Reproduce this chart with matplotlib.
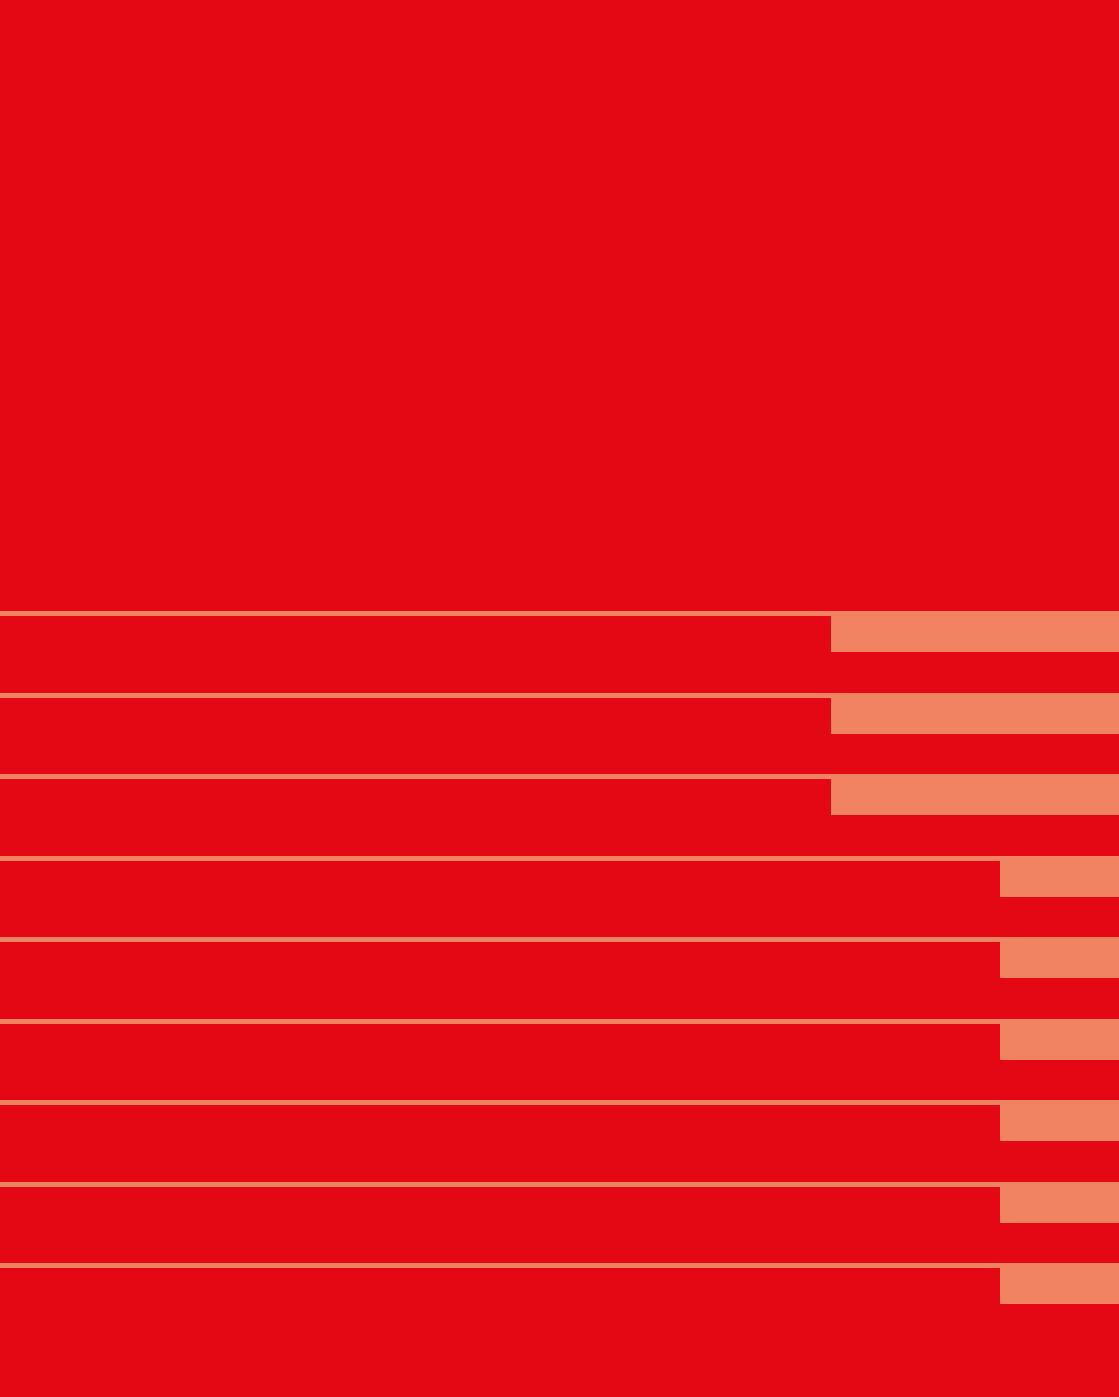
import numpy as np
import matplotlib
matplotlib.use("Agg")
import matplotlib.pyplot as plt

# share of each row that is filled (in %), rest is drawn in salmon
rows = ["r1", "r2", "r3", "r4", "r5", "r6", "r7", "r8", "r9"]
filled = [74.3, 74.3, 74.3, 89.4, 89.4, 89.4, 89.4, 89.4, 89.4]
total = 100.0

RED = "#E30813"
SALMON = "#F18363"

W, H = 1119, 1397
fig = plt.figure(figsize=(W / 100, H / 100), dpi=100, facecolor=RED)
ax = fig.add_axes([0, 0, 1, 1])
ax.set_facecolor(RED)

# layout in pixel units on the y axis
pitch = 81.5
first_line = 613.5
first_bar = 634
idx = np.arange(len(rows))
filled = np.array(filled)

# thin separator line on top of each row
ax.barh(first_line + idx * pitch, total, height=5, color=SALMON, linewidth=0)
# stacked bar: filled part + remainder
ax.barh(first_bar + idx * pitch, filled, height=36, color=RED, linewidth=0)
ax.barh(first_bar + idx * pitch, total - filled, left=filled, height=36,
        color=SALMON, linewidth=0)

ax.set_xlim(0, total)
ax.set_ylim(H, 0)
ax.axis("off")

fig.savefig("out.png", dpi=100, facecolor=RED)
